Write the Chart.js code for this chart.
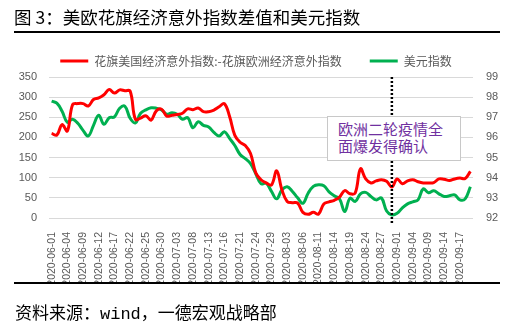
<!DOCTYPE html>
<html>
<head>
<meta charset="utf-8">
<script src="https://cdn.jsdelivr.net/npm/chart.js@4.4.0/dist/chart.umd.min.js"></script>
<style>
body { margin: 0; background: #fff; }
#wrap { position: relative; width: 512px; height: 329px; overflow: hidden; font-family: "Liberation Sans", "Noto Sans CJK SC", sans-serif; }
#chart { position: absolute; left: 0; top: 0; }
#title { position: absolute; left: 14px; top: 5px; font-size: 17.5px; line-height: 24px; color: #000; font-family: "Noto Sans CJK SC", sans-serif; white-space: nowrap; }
.rule { position: absolute; left: 14px; width: 486px; height: 2px; background: #000; }
#source { position: absolute; left: 15px; top: 303px; font-size: 17px; line-height: 24px; color: #000; font-family: "Liberation Mono", "Noto Sans CJK SC", monospace; white-space: nowrap; }
#note { position: absolute; left: 327px; top: 116px; width: 122px; height: 40px; padding: 3px 0 0 10px; background: #fff; border: 1px solid #c8c8c8; color: #7030a0; font-size: 15px; line-height: 17px; font-family: "Noto Sans CJK SC", sans-serif; }
</style>
</head>
<body>
<div id="wrap">
  <canvas id="chart" width="512" height="329"></canvas>
  <div id="title">图 3：美欧花旗经济意外指数差值和美元指数</div>
  <div class="rule" style="top:31px"></div>
  <div class="rule" style="top:282px"></div>
  <div id="note">欧洲二轮疫情全<br>面爆发得确认</div>
  <div id="source">资料来源：wind，一德宏观战略部</div>
</div>
<script>
// data
const dates = [
  '2020-06-01','2020-06-02','2020-06-03','2020-06-04','2020-06-05','2020-06-08','2020-06-09','2020-06-10','2020-06-11','2020-06-12',
  '2020-06-15','2020-06-16','2020-06-17','2020-06-18','2020-06-19','2020-06-22','2020-06-23','2020-06-24','2020-06-25','2020-06-26',
  '2020-06-29','2020-06-30','2020-07-01','2020-07-02','2020-07-03','2020-07-06','2020-07-07','2020-07-08','2020-07-09','2020-07-10',
  '2020-07-13','2020-07-14','2020-07-15','2020-07-16','2020-07-17','2020-07-20','2020-07-21','2020-07-22','2020-07-23','2020-07-24',
  '2020-07-27','2020-07-28','2020-07-29','2020-07-30','2020-07-31','2020-08-03','2020-08-04','2020-08-05','2020-08-06','2020-08-07',
  '2020-08-10','2020-08-11','2020-08-12','2020-08-13','2020-08-14','2020-08-17','2020-08-18','2020-08-19','2020-08-20','2020-08-21',
  '2020-08-24','2020-08-25','2020-08-26','2020-08-27','2020-08-28','2020-08-31','2020-09-01','2020-09-02','2020-09-03','2020-09-04',
  '2020-09-07','2020-09-08','2020-09-09','2020-09-10','2020-09-11','2020-09-14','2020-09-15','2020-09-16','2020-09-17','2020-09-18',
  '2020-09-21'
];
const surpriseDiff = [
  210, 206, 232, 216, 281, 284, 284, 278, 294, 298,
  306, 319, 310, 318, 316, 315, 245, 248, 254, 243,
  266, 270, 253, 255, 257, 260, 271, 269, 273, 264,
  264, 268, 276, 284, 252, 205, 188, 180, 160, 112,
  95, 87, 82, 117, 70, 41, 38, 37, 14, 9,
  14, 10, 35, 40, 44, 52, 68, 60, 62, 122,
  97, 87, 92, 95, 91, 77, 97, 85, 92, 95,
  90, 87, 87, 88, 97, 96, 93, 97, 99, 98,
  116
];
const dollarIndex = [
  97.8, 97.7, 97.3, 96.75, 96.9, 96.7, 96.35, 96.07, 96.6, 97.1,
  96.65, 96.98, 97.02, 97.45, 97.55, 96.95, 96.72, 97.2, 97.37, 97.47,
  97.45, 97.37, 97.15, 97.22, 97.15, 96.9, 96.98, 96.48, 96.78, 96.6,
  96.52, 96.25, 96.07, 96.28, 95.95, 95.6, 95.15, 94.95, 94.7, 94.2,
  93.7, 93.72, 93.32, 92.95, 93.4, 93.55, 93.32, 93.0, 92.73, 93.23,
  93.57, 93.65, 93.6, 93.3, 93.1, 92.95, 92.32, 92.98, 92.82, 93.2,
  93.27, 93.07, 92.9, 93.0, 92.35, 92.15, 92.23, 92.5, 92.7, 92.8,
  92.9, 93.45, 93.25, 93.35, 93.2, 93.07, 93.1, 93.15, 92.9, 92.95,
  93.55
];
const seriesNames = ['花旗美国经济意外指数:-花旗欧洲经济意外指数', '美元指数'];
const markDate = '2020-08-31';

// dotted marker line
const markLine = {
  id: 'markLine',
  afterDatasetsDraw(chart) {
    const ctx = chart.ctx;
    const x = chart.scales.x.getPixelForValue(dates.indexOf(markDate));
    ctx.save();
    ctx.strokeStyle = '#000';
    ctx.lineWidth = 2.5;
    ctx.setLineDash([2, 2]);
    ctx.beginPath();
    ctx.moveTo(x, chart.chartArea.top);
    ctx.lineTo(x, chart.chartArea.bottom + 6);
    ctx.stroke();
    ctx.restore();
  }
};

const tickFont = { family: '"Liberation Sans", "Noto Sans CJK SC", sans-serif', size: 11 };

new Chart(document.getElementById('chart'), {
  type: 'line',
  data: {
    labels: dates,
    datasets: [
      {
        label: seriesNames[0],
        data: surpriseDiff,
        borderColor: '#ff0000',
        backgroundColor: '#ff0000',
        borderWidth: 3,
        pointRadius: 0,
        tension: 0.4,
        yAxisID: 'y'
      },
      {
        label: seriesNames[1],
        data: dollarIndex,
        borderColor: '#00b050',
        backgroundColor: '#00b050',
        borderWidth: 3,
        pointRadius: 0,
        tension: 0.4,
        yAxisID: 'y1'
      }
    ]
  },
  options: {
    responsive: false,
    animation: false,
    layout: { padding: { top: 27, left: 0, right: 0, bottom: 47 } },
    plugins: {
      legend: {
        maxHeight: 51,
        labels: {
          usePointStyle: true,
          pointStyle: 'line',
          pointStyleWidth: 28,
          padding: 28,
          color: '#595959',
          font: { family: '"Noto Sans CJK SC", sans-serif', size: 12 }
        }
      },
      tooltip: { enabled: false }
    },
    scales: {
      x: {
        offset: true,
        grid: { display: false },
        border: { display: false },
        afterFit(scale) { scale.height = 64; },
        ticks: {
          autoSkip: false,
          minRotation: 90,
          maxRotation: 90,
          padding: 6,
          color: '#595959',
          font: { family: '"Liberation Sans", sans-serif', size: 10.5 },
          callback(v, i) { return i % 3 === 0 ? dates[i] : ''; }
        }
      },
      y: {
        position: 'left',
        min: 0,
        max: 350,
        afterFit(scale) { scale.width = 49; },
        grid: { color: '#d9d9d9', drawTicks: false },
        border: { display: false },
        ticks: { stepSize: 50, padding: 12, color: '#595959', font: tickFont }
      },
      y1: {
        position: 'right',
        min: 92,
        max: 99,
        afterFit(scale) { scale.width = 39; },
        grid: { drawOnChartArea: false, drawTicks: false },
        border: { display: false },
        ticks: { stepSize: 1, padding: 13, color: '#595959', font: tickFont }
      }
    }
  },
  plugins: [markLine]
});
</script>
</body>
</html>
